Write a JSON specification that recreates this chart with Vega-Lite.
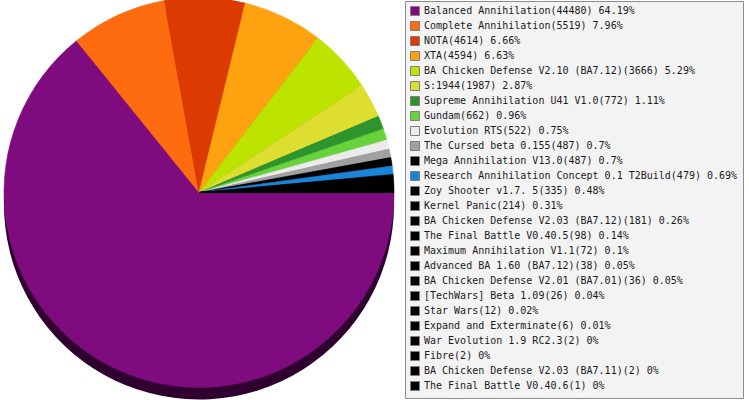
{
  "$schema": "https://vega.github.io/schema/vega-lite/v6.json",
  "width": 398,
  "height": 385,
  "autosize": {"type": "none"},
  "padding": {"left": 0, "top": 0, "right": 351, "bottom": 15},
  "background": "#ffffff",
  "config": {"view": {"stroke": null}},
  "data": {
    "values": [
      {"i": 1, "count": 44480, "label": "Balanced Annihilation(44480) 64.19%"},
      {"i": 2, "count": 5519, "label": "Complete Annihilation(5519) 7.96%"},
      {"i": 3, "count": 4614, "label": "NOTA(4614) 6.66%"},
      {"i": 4, "count": 4594, "label": "XTA(4594) 6.63%"},
      {"i": 5, "count": 3666, "label": "BA Chicken Defense V2.10 (BA7.12)(3666) 5.29%"},
      {"i": 6, "count": 1987, "label": "S:1944(1987) 2.87%"},
      {"i": 7, "count": 772, "label": "Supreme Annihilation U41 V1.0(772) 1.11%"},
      {"i": 8, "count": 662, "label": "Gundam(662) 0.96%"},
      {"i": 9, "count": 522, "label": "Evolution RTS(522) 0.75%"},
      {"i": 10, "count": 487, "label": "The Cursed beta 0.155(487) 0.7%"},
      {"i": 11, "count": 487, "label": "Mega Annihilation V13.0(487) 0.7%"},
      {"i": 12, "count": 479, "label": "Research Annihilation Concept 0.1 T2Build(479) 0.69%"},
      {"i": 13, "count": 335, "label": "Zoy Shooter v1.7. 5(335) 0.48%"},
      {"i": 14, "count": 214, "label": "Kernel Panic(214) 0.31%"},
      {"i": 15, "count": 181, "label": "BA Chicken Defense V2.03 (BA7.12)(181) 0.26%"},
      {"i": 16, "count": 98, "label": "The Final Battle V0.40.5(98) 0.14%"},
      {"i": 17, "count": 72, "label": "Maximum Annihilation V1.1(72) 0.1%"},
      {"i": 18, "count": 38, "label": "Advanced BA 1.60 (BA7.12)(38) 0.05%"},
      {"i": 19, "count": 36, "label": "BA Chicken Defense V2.01 (BA7.01)(36) 0.05%"},
      {"i": 20, "count": 26, "label": "[TechWars] Beta 1.09(26) 0.04%"},
      {"i": 21, "count": 12, "label": "Star Wars(12) 0.02%"},
      {"i": 22, "count": 6, "label": "Expand and Exterminate(6) 0.01%"},
      {"i": 23, "count": 2, "label": "War Evolution 1.9 RC2.3(2) 0%"},
      {"i": 24, "count": 2, "label": "Fibre(2) 0%"},
      {"i": 25, "count": 2, "label": "BA Chicken Defense V2.03 (BA7.11)(2) 0%"},
      {"i": 26, "count": 1, "label": "The Final Battle V0.40.6(1) 0%"}
    ]
  },
  "layer": [
    {
      "mark": {"type": "arc", "outerRadius": 195, "yOffset": 12, "color": "#2f002f"},
      "encoding": {
        "theta": {"field": "count", "type": "quantitative", "stack": true, "scale": {"range": [1.5708, 7.854]}},
        "order": {"field": "i", "type": "quantitative"}
      }
    },
    {
      "mark": {"type": "arc", "outerRadius": 195, "strokeWidth": 0.6},
      "encoding": {
        "theta": {"field": "count", "type": "quantitative", "stack": true, "scale": {"range": [1.5708, 7.854]}},
        "order": {"field": "i", "type": "quantitative"},
        "stroke": {
          "field": "i",
          "type": "ordinal",
          "scale": {
            "domain": [1, 2, 3, 4, 5, 6, 7, 8, 9, 10, 11, 12, 13, 14, 15, 16, 17, 18, 19, 20, 21, 22, 23, 24, 25, 26],
            "range": [
              "#7f0c7f", "#ff6b0f", "#db3a00", "#ffa20f", "#bde300", "#dede30",
              "#2e952e", "#68d23b", "#ececec", "#a1a1a1", "#000000", "#1a85d8",
              "#000000", "#000000", "#000000", "#000000", "#000000", "#000000",
              "#000000", "#000000", "#000000", "#000000", "#000000", "#000000",
              "#000000", "#000000"
            ]
          },
          "legend": null
        },
        "color": {
          "field": "label",
          "type": "nominal",
          "scale": {
            "domain": [
              "Balanced Annihilation(44480) 64.19%",
              "Complete Annihilation(5519) 7.96%",
              "NOTA(4614) 6.66%",
              "XTA(4594) 6.63%",
              "BA Chicken Defense V2.10 (BA7.12)(3666) 5.29%",
              "S:1944(1987) 2.87%",
              "Supreme Annihilation U41 V1.0(772) 1.11%",
              "Gundam(662) 0.96%",
              "Evolution RTS(522) 0.75%",
              "The Cursed beta 0.155(487) 0.7%",
              "Mega Annihilation V13.0(487) 0.7%",
              "Research Annihilation Concept 0.1 T2Build(479) 0.69%",
              "Zoy Shooter v1.7. 5(335) 0.48%",
              "Kernel Panic(214) 0.31%",
              "BA Chicken Defense V2.03 (BA7.12)(181) 0.26%",
              "The Final Battle V0.40.5(98) 0.14%",
              "Maximum Annihilation V1.1(72) 0.1%",
              "Advanced BA 1.60 (BA7.12)(38) 0.05%",
              "BA Chicken Defense V2.01 (BA7.01)(36) 0.05%",
              "[TechWars] Beta 1.09(26) 0.04%",
              "Star Wars(12) 0.02%",
              "Expand and Exterminate(6) 0.01%",
              "War Evolution 1.9 RC2.3(2) 0%",
              "Fibre(2) 0%",
              "BA Chicken Defense V2.03 (BA7.11)(2) 0%",
              "The Final Battle V0.40.6(1) 0%"
            ],
            "range": [
              "#7f0c7f", "#ff6b0f", "#db3a00", "#ffa20f", "#bde300", "#dede30",
              "#2e952e", "#68d23b", "#ececec", "#a1a1a1", "#000000", "#1a85d8",
              "#000000", "#000000", "#000000", "#000000", "#000000", "#000000",
              "#000000", "#000000", "#000000", "#000000", "#000000", "#000000",
              "#000000", "#000000"
            ]
          },
          "legend": {
            "title": null,
            "orient": "none",
            "legendX": 405,
            "legendY": 1,
            "padding": 5,
            "fillColor": "#f3f3f3",
            "strokeColor": "#8c8c8c",
            "symbolType": "square",
            "symbolSize": 81,
            "symbolStrokeColor": "#808080",
            "symbolStrokeWidth": 1,
            "symbolOpacity": 1,
            "labelFont": "DejaVu Sans Mono",
            "labelFontSize": 10,
            "labelColor": "#1a1a1a",
            "labelOffset": 4,
            "labelLimit": 400,
            "rowPadding": 1,
            "symbolLimit": 0
          }
        }
      }
    }
  ]
}
